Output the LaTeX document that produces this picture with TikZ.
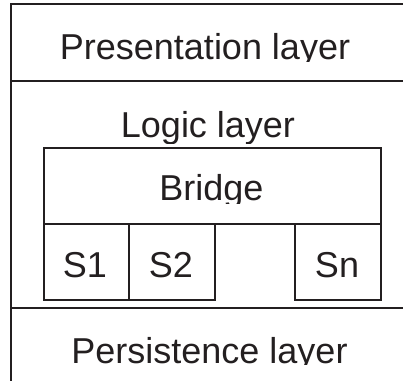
\documentclass[tikz,border=0pt]{standalone}
\usepackage{fontspec}
\setmainfont{Liberation Sans}
\definecolor{ink}{HTML}{231F20}
\begin{document}
\begin{tikzpicture}[x=1pt,y=-1pt,
  frame/.style={draw=ink,line width=2pt},
  box/.style={draw=ink,line width=1.6pt,inner sep=0pt,anchor=north west},
  lbl/.style={text=ink,inner sep=0pt,anchor=base,font=\fontsize{36}{42}\selectfont}]
  \useasboundingbox (0,0) rectangle (403,381);
  \clip (0,0) rectangle (403,381);

  % outer frame and layer dividers
  \coordinate (tr) at (403,4);
  \coordinate (tl) at (11,4);
  \coordinate (bl) at (11,381);
  \coordinate (d1l) at (11,81);  \coordinate (d1r) at (403,81);
  \coordinate (d2l) at (11,308); \coordinate (d2r) at (403,308);
  \draw[frame] (tr) -- (tl) -- (bl);
  \draw[frame] (d1l) -- (d1r);
  \draw[frame] (d2l) -- (d2r);

  % bridge and service boxes
  \node[box,minimum width=337pt,minimum height=76pt] (bridge) at (43,147) {};
  \node[box,minimum width=85pt,minimum height=76pt] (s1) at (43,223) {};
  \node[box,minimum width=86pt,minimum height=76pt] (s2) at (128,223) {};
  \node[box,minimum width=86pt,minimum height=76pt] (sn) at (294,223) {};

  % labels, descenders trimmed
  \begin{scope}
    \clip (0,20) rectangle (403,61.5);
    \node[lbl] (pres) at (205,59.5) {Presentation layer};
  \end{scope}
  \begin{scope}
    \clip (0,100) rectangle (403,143);
    \node[lbl] (logic) at (208,137) {Logic layer};
  \end{scope}
  \begin{scope}
    \clip (0,160) rectangle (403,203);
    \node[lbl] (bridgetxt) at (211.5,200) {Bridge};
  \end{scope}
  \node[lbl] (s1txt) at (85,277.5) {S1};
  \node[lbl] (s2txt) at (171,277.5) {S2};
  \node[lbl] (sntxt) at (337,277.5) {Sn};
  \begin{scope}
    \clip (0,320) rectangle (403,364.5);
    \node[lbl] (pers) at (209.5,363) {Persistence layer};
  \end{scope}
\end{tikzpicture}
\end{document}
